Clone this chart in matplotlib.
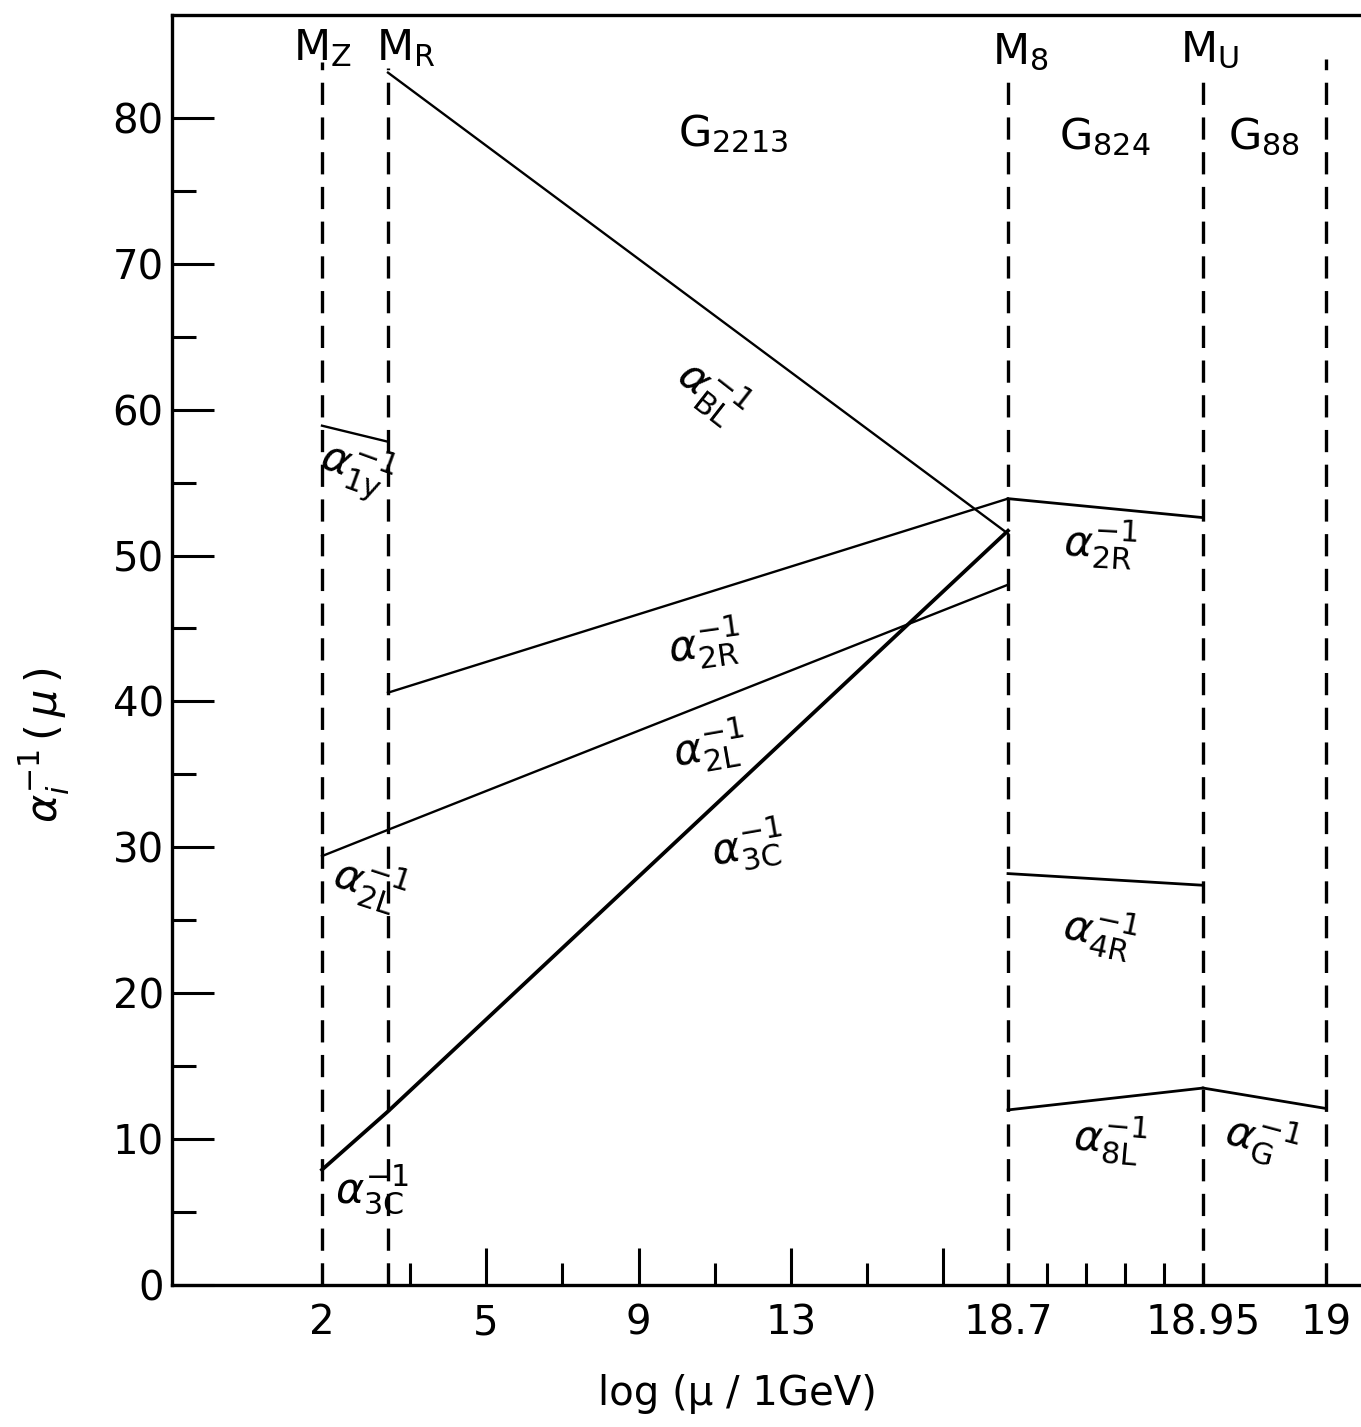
import numpy as np
import matplotlib
matplotlib.use("Agg")
import matplotlib.pyplot as plt
from matplotlib.ticker import FixedLocator

plt.rcParams['font.family'] = ['DejaVu Sans']
plt.rcParams['mathtext.fontset'] = 'dejavusans'
plt.rcParams['lines.scale_dashes'] = False

# ---------------- data ----------------
# scale thresholds, log10(mu / 1 GeV)
M_Z, M_R, M_8, M_U, M_G = 2.0, 2.75, 18.7, 18.95, 19.0

# inverse couplings in the G2213 regime
bl_x = [M_R, M_8];           bl_y = [83.1, 51.5]
y1_x = [M_Z, M_R];           y1_y = [58.9, 57.8]
r2a_x = [M_R, M_8];          r2a_y = [40.6, 53.9]
l2_x = [M_Z, M_R, M_8];      l2_y = [29.4, 31.2, 48.0]
c3_x = [M_Z, M_R, M_8];      c3_y = [7.9, 11.9, 51.7]
# G824 regime
r2b_x = [M_8, M_U];          r2b_y = [53.9, 52.6]
r4_x = [M_8, M_U];           r4_y = [28.2, 27.4]
l8_x = [M_8, M_U];           l8_y = [12.0, 13.5]
# G88 regime
g_x = [M_U, M_G];            g_y = [13.5, 12.1]

# threshold lines and their top ends
thr_x = [M_Z, M_R, M_8, M_U, M_G]
thr_top = [83.8, 83.4, 82.6, 83.0, 84.0]

x_major = [2, 5, 9, 13, 17, 18.7, 18.95, 19]
x_major_labels = ['2', '5', '9', '13', '', '18.7', '18.95', '19']
x_minor = [3, 7, 11, 15, 18.75, 18.8, 18.85, 18.9]
y_major = list(range(0, 81, 10))
y_minor = list(range(5, 80, 10))

# schematic (broken) axis: breakpoints of the piecewise-linear x scale
KX = np.array([0.0, 2.0, 3.0, 18.7, 18.95, 19.0, 19.0142])
KP = np.array([0.0, 150.0, 238.0, 836.0, 1031.0, 1154.0, 1189.0])

def fwd(x):
    return np.interp(x, KX, KP)

def inv(p):
    return np.interp(p, KP, KX)

# ---------------- figure ----------------
W, H = 1361, 1427
fig = plt.figure(figsize=(W / 100, H / 100), dpi=100)
L, R, B, T = 172, 1361, 1285, 15
ax = fig.add_axes([L / W, (H - B) / H, (R - L) / W, (B - T) / H])
ax.set_xscale('function', functions=(fwd, inv))
ax.set_xlim(0.0, 19.0142)
ax.set_ylim(0, 87.05)

lw_axis = 2.4
for s in ['left', 'bottom', 'top']:
    ax.spines[s].set_linewidth(lw_axis)
ax.spines['right'].set_visible(False)

# threshold dashed lines
for xv, top in zip(thr_x, thr_top):
    ax.plot([xv, xv], [0, top], color='black', lw=2.4,
            linestyle=(0, (16.0, 9.0)), solid_capstyle='butt')

thin = 1.7
ax.plot(bl_x, bl_y, color='black', lw=thin)
ax.plot(y1_x, y1_y, color='black', lw=thin)
ax.plot(r2a_x, r2a_y, color='black', lw=thin)
ax.plot(l2_x, l2_y, color='black', lw=thin)
ax.plot(c3_x, c3_y, color='black', lw=2.7)
ax.plot(r2b_x, r2b_y, color='black', lw=thin + 0.3)
ax.plot(r4_x, r4_y, color='black', lw=thin + 0.3)
ax.plot(l8_x, l8_y, color='black', lw=thin + 0.3)
ax.plot(g_x, g_y, color='black', lw=thin + 0.3)

# ticks
fs = 29
ax.yaxis.set_major_locator(FixedLocator(y_major))
ax.yaxis.set_minor_locator(FixedLocator(y_minor))
ax.set_yticklabels([str(v) for v in y_major])
ax.tick_params(axis='y', which='major', direction='in', length=30, width=2.2,
               labelsize=fs, pad=6)
ax.tick_params(axis='y', which='minor', direction='in', length=17, width=2.2)

ax.xaxis.set_major_locator(FixedLocator(x_major))
ax.xaxis.set_minor_locator(FixedLocator(x_minor))
ax.set_xticklabels(x_major_labels)
ax.tick_params(axis='x', which='major', direction='in', length=27, width=2.2,
               labelsize=fs, pad=13)
ax.tick_params(axis='x', which='minor', direction='in', length=16, width=2.2)
for i, v in enumerate(x_major):
    if v in thr_x:
        ax.xaxis.get_major_ticks()[i].tick1line.set_visible(False)
ax.tick_params(top=False, right=False, which='both')

ax.set_xlabel('log (μ / 1GeV)', fontsize=fs)
ax.xaxis.set_label_coords((737 - L) / (R - L), -(1374 - B) / (B - T))
ax.set_ylabel(r'$\alpha_{i}^{-1}\,(\,\mu\,)$', fontsize=fs + 2)
ax.yaxis.label.set_va('center')
ax.yaxis.set_label_coords((45 - L) / (R - L), (B - 745) / (B - T))


def P(px, py):
    return ((px - L) / (R - L), (B - py) / (B - T))


def lab(s, px, py, size=fs, rot=0):
    ax.text(*P(px, py), s, transform=ax.transAxes, fontsize=size,
            ha='center', va='center', rotation=rot, rotation_mode='anchor')

# threshold names and regime names
msz = 31
lab(r'$\mathrm{M_Z}$', 322, 48, msz)
lab(r'$\mathrm{M_R}$', 406, 48, msz)
lab(r'$\mathrm{M_8}$', 1020, 52, msz)
lab(r'$\mathrm{M_U}$', 1210, 50, msz)
lab(r'$\mathrm{G_{2213}}$', 733, 134, msz)
lab(r'$\mathrm{G_{824}}$', 1105, 137, msz)
lab(r'$\mathrm{G_{88}}$', 1264, 137, msz)

# coupling labels
asz = 31
lab(r'$\alpha^{-1}_{\mathrm{BL}}$', 712, 392, asz, -38)
lab(r'$\alpha^{-1}_{\mathrm{1y}}$', 356, 470, asz, -20)
lab(r'$\alpha^{-1}_{\mathrm{2R}}$', 705, 645, asz, 8)
lab(r'$\alpha^{-1}_{\mathrm{2L}}$', 710, 748, asz, 10)
lab(r'$\alpha^{-1}_{\mathrm{3C}}$', 748, 846, asz, 10)
lab(r'$\alpha^{-1}_{\mathrm{2L}}$', 370, 885, asz, -18)
lab(r'$\alpha^{-1}_{\mathrm{3C}}$', 372, 1190, asz, 0)
lab(r'$\alpha^{-1}_{\mathrm{2R}}$', 1100, 545, asz, -3)
lab(r'$\alpha^{-1}_{\mathrm{4R}}$', 1100, 932, asz, -12)
lab(r'$\alpha^{-1}_{\mathrm{8L}}$', 1110, 1140, asz, -5)
lab(r'$\alpha^{-1}_{\mathrm{G}}$', 1262, 1140, asz, -15)

fig.savefig('out.png', dpi=100)
